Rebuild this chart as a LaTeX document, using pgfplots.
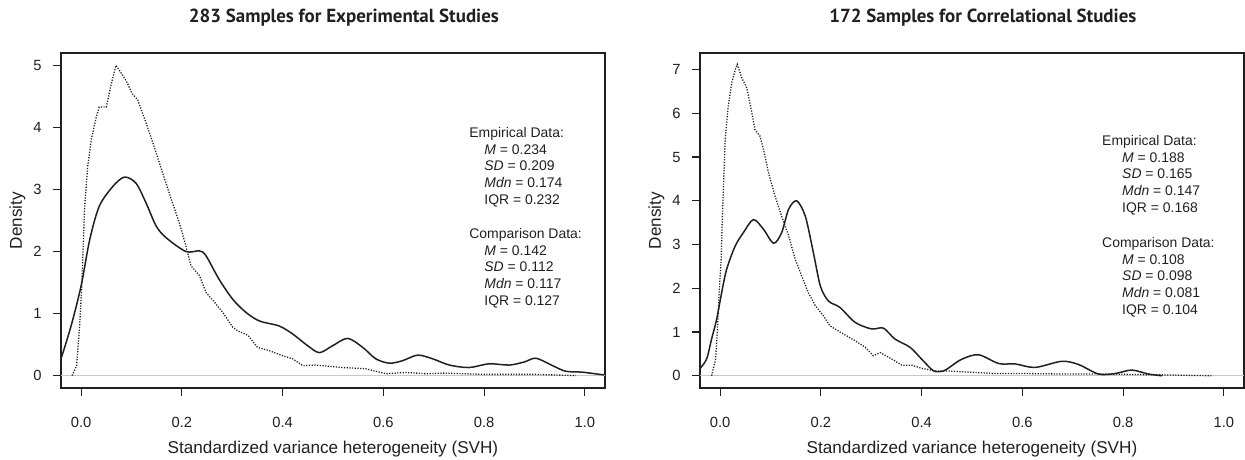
\documentclass[border=0pt]{standalone}
\usepackage{fontspec}
\setmainfont{Liberation Sans}
\newfontfamily\titlefont{PT Sans}
\usepackage{pgfplots}
\pgfplotsset{compat=1.18}
\definecolor{inkgray}{RGB}{35,31,32}
\definecolor{zerogray}{RGB}{200,200,200}

\pgfplotsset{
  svhpanel/.style={
    scale only axis,
    width=272bp, height=167.5bp,
    xmin=-0.04, xmax=1.04,
    axis line style={inkgray, line width=0.6bp},
    tick style={inkgray, line width=0.6bp},
    tick align=outside, major tick length=4bp, tick pos=left,
    xtick={0,0.2,0.4,0.6,0.8,1.0},
    /pgf/number format/assume math mode=true,
    xticklabel style={anchor=north, inner sep=0pt, yshift=-10.6bp, text=inkgray,
      font=\fontsize{7.4}{8}\selectfont,
      /pgf/number format/fixed, /pgf/number format/fixed zerofill,
      /pgf/number format/precision=1},
    yticklabel style={anchor=east, inner sep=0pt, xshift=-5.5bp, text=inkgray,
      font=\fontsize{7.4}{8}\selectfont},
    xlabel={Standardized variance heterogeneity (SVH)},
    ylabel={Density},
    xlabel style={at={(axis description cs:0.5,-0.182)}, anchor=center,
      text=inkgray, font=\fontsize{8.6}{10}\selectfont},
    ylabel style={at={(axis description cs:-0.08,0.5)}, anchor=center,
      text=inkgray, font=\fontsize{8.6}{10}\selectfont},
    % the title is moved up by a further 6pt (every axis title shift)
    title style={at={(axis description cs:0.52,1.071)}, anchor=center,
      text=inkgray, font=\titlefont\bfseries\fontsize{9.5}{11}\selectfont},
  },
  empirical/.style={inkgray, line width=0.75bp, smooth, tension=0.5},
  comparison/.style={inkgray, line width=0.65bp, dash pattern=on 0.6bp off 0.75bp},
}

\begin{document}
\begin{tikzpicture}
\useasboundingbox (0,0) rectangle (622.5bp,230bp);

% Experimental studies
\begin{axis}[svhpanel, at={(30.5bp,36bp)}, anchor=south west,
    ymin=-0.2, ymax=5.2, ytick={0,1,2,3,4,5},
    title={283 Samples for Experimental Studies}]
  \draw[zerogray, line width=0.6bp] (axis cs:-0.04,0) -- (axis cs:1.04,0);
  % empirical data
  \addplot[empirical] coordinates {
    (-0.040,0.27) (-0.020,0.80) (0.000,1.45) (0.017,2.19) (0.036,2.73)
    (0.063,3.05) (0.086,3.20) (0.109,3.10) (0.129,2.78) (0.149,2.41)
    (0.169,2.22) (0.208,2.00) (0.235,2.01) (0.248,1.93) (0.274,1.55)
    (0.301,1.23) (0.327,1.02) (0.354,0.88) (0.393,0.80) (0.420,0.67)
    (0.450,0.48) (0.473,0.37) (0.499,0.48) (0.529,0.60) (0.559,0.455)
    (0.585,0.27) (0.612,0.20) (0.638,0.24) (0.668,0.33) (0.698,0.27)
    (0.731,0.17) (0.770,0.13) (0.810,0.19) (0.850,0.17) (0.880,0.22)
    (0.903,0.28) (0.936,0.16) (0.962,0.07) (0.995,0.055) (1.038,0.01)
  };
  % comparison data
  \addplot[comparison] coordinates {
    (-0.018,0.00) (-0.009,0.16) (-0.003,0.80) (0.001,1.40) (0.007,2.73)
    (0.013,3.37) (0.020,3.80) (0.030,4.17) (0.036,4.33) (0.050,4.33)
    (0.060,4.71) (0.069,5.00) (0.076,4.92) (0.089,4.76) (0.101,4.55)
    (0.112,4.45) (0.129,4.07) (0.145,3.69) (0.162,3.26) (0.179,2.84)
    (0.195,2.46) (0.208,2.09) (0.218,1.77) (0.235,1.61) (0.248,1.34)
    (0.265,1.18) (0.281,1.02) (0.301,0.78) (0.311,0.72) (0.331,0.65)
    (0.350,0.455) (0.374,0.40) (0.400,0.32) (0.420,0.27) (0.440,0.16)
    (0.466,0.17) (0.519,0.13) (0.565,0.11) (0.605,0.03) (0.645,0.05)
    (0.685,0.03) (0.720,0.04) (0.800,0.02) (0.900,0.02) (0.982,0.00)
  };
\end{axis}

% Correlational studies
\begin{axis}[svhpanel, at={(350bp,36bp)}, anchor=south west,
    ymin=-0.28, ymax=7.38, ytick={0,1,2,3,4,5,6,7},
    title={172 Samples for Correlational Studies}]
  \draw[zerogray, line width=0.6bp] (axis cs:-0.04,0) -- (axis cs:1.04,0);
  \addplot[empirical] coordinates {
    (-0.041,0.15) (-0.027,0.38) (-0.017,0.84) (-0.007,1.29) (0.003,1.90)
    (0.013,2.44) (0.030,2.97) (0.046,3.27) (0.066,3.57) (0.086,3.35)
    (0.106,3.03) (0.122,3.27) (0.136,3.81) (0.152,4.00) (0.169,3.65)
    (0.185,2.82) (0.199,2.05) (0.215,1.71) (0.238,1.56) (0.268,1.22)
    (0.301,1.07) (0.324,1.09) (0.347,0.84) (0.377,0.65) (0.400,0.38)
    (0.424,0.11) (0.443,0.11) (0.455,0.19) (0.480,0.38) (0.513,0.48)
    (0.553,0.28) (0.586,0.27) (0.625,0.19) (0.678,0.33) (0.711,0.26)
    (0.751,0.04) (0.784,0.05) (0.817,0.13) (0.850,0.04) (0.877,0.00)
  };
  \addplot[comparison] coordinates {
    (-0.017,0.00) (-0.009,0.38) (-0.005,1.14) (-0.002,1.90) (0.002,2.66)
    (0.004,3.50) (0.010,5.40) (0.016,6.16) (0.023,6.70) (0.030,7.00)
    (0.034,7.12) (0.043,6.81) (0.053,6.58) (0.063,6.01) (0.069,5.63)
    (0.079,5.48) (0.086,5.18) (0.096,4.64) (0.109,4.11) (0.122,3.65)
    (0.136,3.20) (0.149,2.66) (0.162,2.28) (0.175,1.90) (0.189,1.60)
    (0.205,1.37) (0.218,1.14) (0.238,1.00) (0.268,0.80) (0.288,0.65)
    (0.304,0.46) (0.318,0.53) (0.341,0.38) (0.361,0.24) (0.381,0.24)
    (0.400,0.17) (0.427,0.11) (0.453,0.11) (0.467,0.10) (0.546,0.05)
    (0.610,0.05) (0.680,0.04) (0.750,0.04) (0.880,0.02) (0.975,0.00)
  };
\end{axis}

% summary statistics
\tikzset{stats/.style={anchor=north west, inner sep=0pt, align=left,
  text=inkgray, font=\fontsize{7}{8.4}\selectfont}}
\node[stats] at (234.5bp,166.5bp) {Empirical Data:\\
  \hspace*{7.5bp}\textit{M} = 0.234\\
  \hspace*{7.5bp}\textit{SD} = 0.209\\
  \hspace*{7.5bp}\textit{Mdn} = 0.174\\
  \hspace*{7.5bp}IQR = 0.232};
\node[stats] at (234.5bp,116bp) {Comparison Data:\\
  \hspace*{7.5bp}\textit{M} = 0.142\\
  \hspace*{7.5bp}\textit{SD} = 0.112\\
  \hspace*{7.5bp}\textit{Mdn} = 0.117\\
  \hspace*{7.5bp}IQR = 0.127};
\node[stats] at (550.9bp,162.5bp) {Empirical Data:\\
  \hspace*{10bp}\textit{M} = 0.188\\
  \hspace*{10bp}\textit{SD} = 0.165\\
  \hspace*{10bp}\textit{Mdn} = 0.147\\
  \hspace*{10bp}IQR = 0.168};
\node[stats] at (550.9bp,111.6bp) {Comparison Data:\\
  \hspace*{10bp}\textit{M} = 0.108\\
  \hspace*{10bp}\textit{SD} = 0.098\\
  \hspace*{10bp}\textit{Mdn} = 0.081\\
  \hspace*{10bp}IQR = 0.104};
\end{tikzpicture}
\end{document}
